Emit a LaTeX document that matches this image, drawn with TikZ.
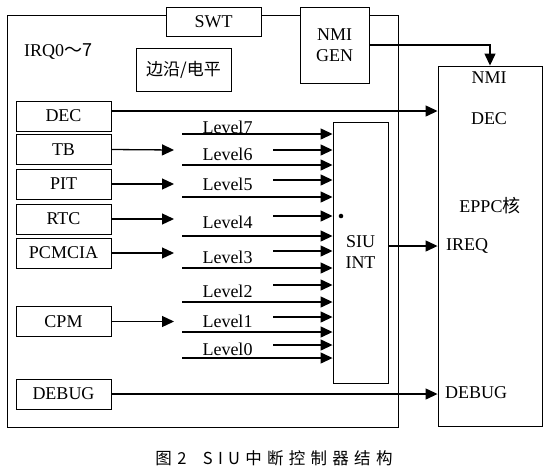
\documentclass[tikz,border=0pt]{standalone}
\usepackage{fontspec}
\setmainfont{Liberation Serif}
\newfontfamily\cjk{Noto Sans CJK SC}
\newfontfamily\capfont[LetterSpace=32]{Noto Sans CJK SC}
\usetikzlibrary{arrows.meta}

\begin{document}
\begin{tikzpicture}[x=1pt,y=-1pt,font=\fontsize{18}{21}\selectfont,
    box/.style={draw,line width=0.9pt,fill=white,inner sep=0pt,
      minimum width=95pt,minimum height=30pt},
    arr/.style={line width=1.3pt,-{Triangle[length=12pt,width=11pt]}},
    lbl/.style={inner sep=0pt}]
  \useasboundingbox (0,0) rectangle (549,475);
  % frame
  \draw[line width=0.9pt] (7,15) rectangle (398,427);
  % top boxes
  \node[box,minimum height=29pt] (swt) at (213.5,21.5) {SWT};
  \node[box,minimum width=69pt,minimum height=76pt,align=center] (nmigen) at (334.5,45) {NMI\\GEN};
  \node[box,minimum height=43pt] (edge) at (183.5,70) {\cjk\fontsize{17}{20}\selectfont 边沿/电平};
  \node[lbl,anchor=west] (irq) at (24,52) {IRQ0\cjk{～}7};
  % sources
  \node[box] (dec) at (63.5,116) {DEC};
  \node[box] (tb) at (63.5,149.5) {TB};
  \node[box] (pit) at (63.5,184) {PIT};
  \node[box] (rtc) at (63.5,219) {RTC};
  \node[box] (pcmcia) at (63.5,253) {PCMCIA};
  \node[box] (cpm) at (63.5,321.5) {CPM};
  \node[box] (debug) at (63.5,394) {DEBUG};
  % siu and core
  \node[box,minimum width=55pt,minimum height=261pt,align=center] (siu) at (360.5,252.5) {SIU\\INT};
  \node[box,minimum width=104pt,minimum height=360pt] (eppc) at (490,246) {};
  \node[lbl] (enmi) at (489,78) {NMI};
  \node[lbl] (edec) at (489,119) {DEC};
  \node[lbl] (ecore) at (490,206) {EPPC\cjk{核}};
  \node[lbl,anchor=west] (ireq) at (446,246) {IREQ};
  \node[lbl,anchor=west] (edbg) at (445,393) {DEBUG};
  % level labels
  \node[lbl] (lv7) at (227.5,127) {Level7};
  \node[lbl] (lv6) at (227.5,154) {Level6};
  \node[lbl] (lv5) at (227.5,184) {Level5};
  \node[lbl] (lv4) at (227.5,222) {Level4};
  \node[lbl] (lv3) at (227.5,257) {Level3};
  \node[lbl] (lv2) at (227.5,291) {Level2};
  \node[lbl] (lv1) at (227.5,321) {Level1};
  \node[lbl] (lv0) at (227.5,349) {Level0};
  % line ends
  \coordinate (decout) at ([yshift=5pt]dec.east);
  \coordinate (tbin) at (174,150);
  \coordinate (pitin) at (174,184);
  \coordinate (rtcin) at (174,219);
  \coordinate (pcin) at (174,253);
  \coordinate (cpmin) at (174,321.5);
  \coordinate (l7) at (182,134);
  \coordinate (l6) at (182,165);
  \coordinate (l5) at (182,197);
  \coordinate (l4) at (182,236);
  \coordinate (l3) at (182,268);
  \coordinate (l2) at (182,302);
  \coordinate (l1) at (182,332);
  \coordinate (l0) at (182,358);
  \coordinate (s6) at (273,150);
  \coordinate (s5) at (273,180);
  \coordinate (s4) at (273,216);
  \coordinate (s3) at (273,251);
  \coordinate (s2) at (273,285);
  \coordinate (s1) at (273,317);
  \coordinate (s0) at (273,345);
  % edges
  \draw[arr] (decout) -- (decout -| eppc.west);
  \draw[arr] (tb.east) -- (tbin);
  \draw[arr] (pit.east) -- (pitin);
  \draw[arr] (rtc.east) -- (rtcin);
  \draw[arr] (pcmcia.east) -- (pcin);
  \draw[arr] (cpm.east) -- (cpmin);
  \draw[arr] (debug.east) -- (debug.east -| eppc.west);
  \draw[arr] (siu.east |- ireq) -- (eppc.west |- ireq);
  \draw[arr] (nmigen.east) -| (eppc.north);
  % levels
  \draw[arr] (l7) -- (l7 -| siu.west);
  \draw[arr] (l6) -- (l6 -| siu.west);
  \draw[arr] (l5) -- (l5 -| siu.west);
  \draw[arr] (l4) -- (l4 -| siu.west);
  \draw[arr] (l3) -- (l3 -| siu.west);
  \draw[arr] (l2) -- (l2 -| siu.west);
  \draw[arr] (l1) -- (l1 -| siu.west);
  \draw[arr] (l0) -- (l0 -| siu.west);
  \draw[arr] (s6) -- (s6 -| siu.west);
  \draw[arr] (s5) -- (s5 -| siu.west);
  \draw[arr] (s4) -- (s4 -| siu.west);
  \draw[arr] (s3) -- (s3 -| siu.west);
  \draw[arr] (s2) -- (s2 -| siu.west);
  \draw[arr] (s1) -- (s1 -| siu.west);
  \draw[arr] (s0) -- (s0 -| siu.west);
  \node[circle,fill,inner sep=1.6pt] (dot) at (341,216) {};
  % caption
  \node[lbl] (cap) at (274,458) {\capfont\fontsize{16.5}{18}\selectfont 图2\quad SIU中断控制器结构};
\end{tikzpicture}
\end{document}
